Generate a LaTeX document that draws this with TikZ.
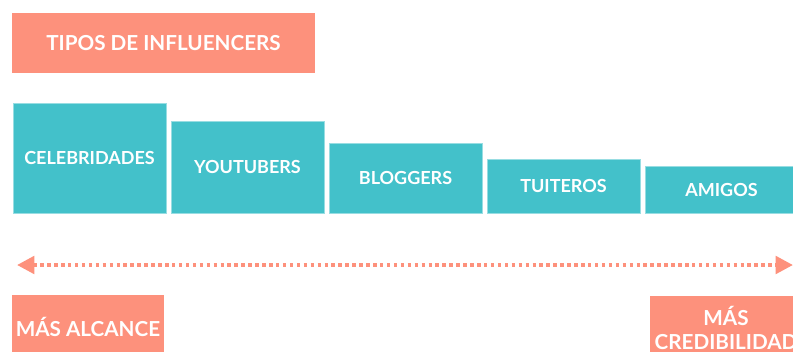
\documentclass[tikz,border=0pt]{standalone}
\usepackage{fontspec}
\setmainfont{Lato}
\usetikzlibrary{arrows.meta}
\definecolor{salmon}{HTML}{FD917C}
\definecolor{teal}{HTML}{43C1CA}
\tikzset{
  tipo/.style = {fill = teal, draw = teal!55!white, line width = 0.6pt, text = white,
    minimum width = 114.75pt, inner sep = 0pt,
    font = \bfseries\fontsize{13.5}{16}\selectfont},
  etiqueta/.style = {fill = salmon, text = white, align = center, inner sep = 0pt,
    font = \bfseries\fontsize{15.5}{18}\selectfont}
}

\begin{document}
\begin{tikzpicture}[x = 0.75pt, y = -0.75pt]
\useasboundingbox (0, 0) rectangle (793, 351);
\clip (0, 0) rectangle (793, 351);
\node (title) [etiqueta, minimum width = 227.25pt, minimum height = 45pt] at (163.5, 43) {TIPOS DE INFLUENCERS};
% tipos, de mas alcance a mas credibilidad
\node (celebridades) [tipo, minimum height = 82.5pt] at (89.5, 158) {CELEBRIDADES};
\node (youtubers) [tipo, minimum height = 69pt] at (247.5, 167) {YOUTUBERS};
\node (bloggers) [tipo, minimum height = 52.5pt] at (405.5, 178) {BLOGGERS};
\node (tuiteros) [tipo, minimum height = 40.5pt] at (563.5, 186) {TUITEROS};
\node (amigos) [tipo, minimum height = 35.25pt] at (721.5, 189.5) {AMIGOS};
% flecha doble
\coordinate (izq) at (17, 265);
\coordinate (der) at (793, 265);
\draw[salmon, line width = 3pt, dash pattern = on 2.6pt off 2.6pt,
  {Triangle[length = 13pt, width = 13pt]}-{Triangle[length = 13pt, width = 13pt]}] (izq) -- (der);
% extremos
\node (alcance) [etiqueta, minimum width = 114pt, minimum height = 48pt] at (88, 327) {MÁS ALCANCE};
\node (credibilidad) [etiqueta, minimum width = 114pt, minimum height = 48pt] at (726, 328) {MÁS\\CREDIBILIDAD};
\end{tikzpicture}
\end{document}
